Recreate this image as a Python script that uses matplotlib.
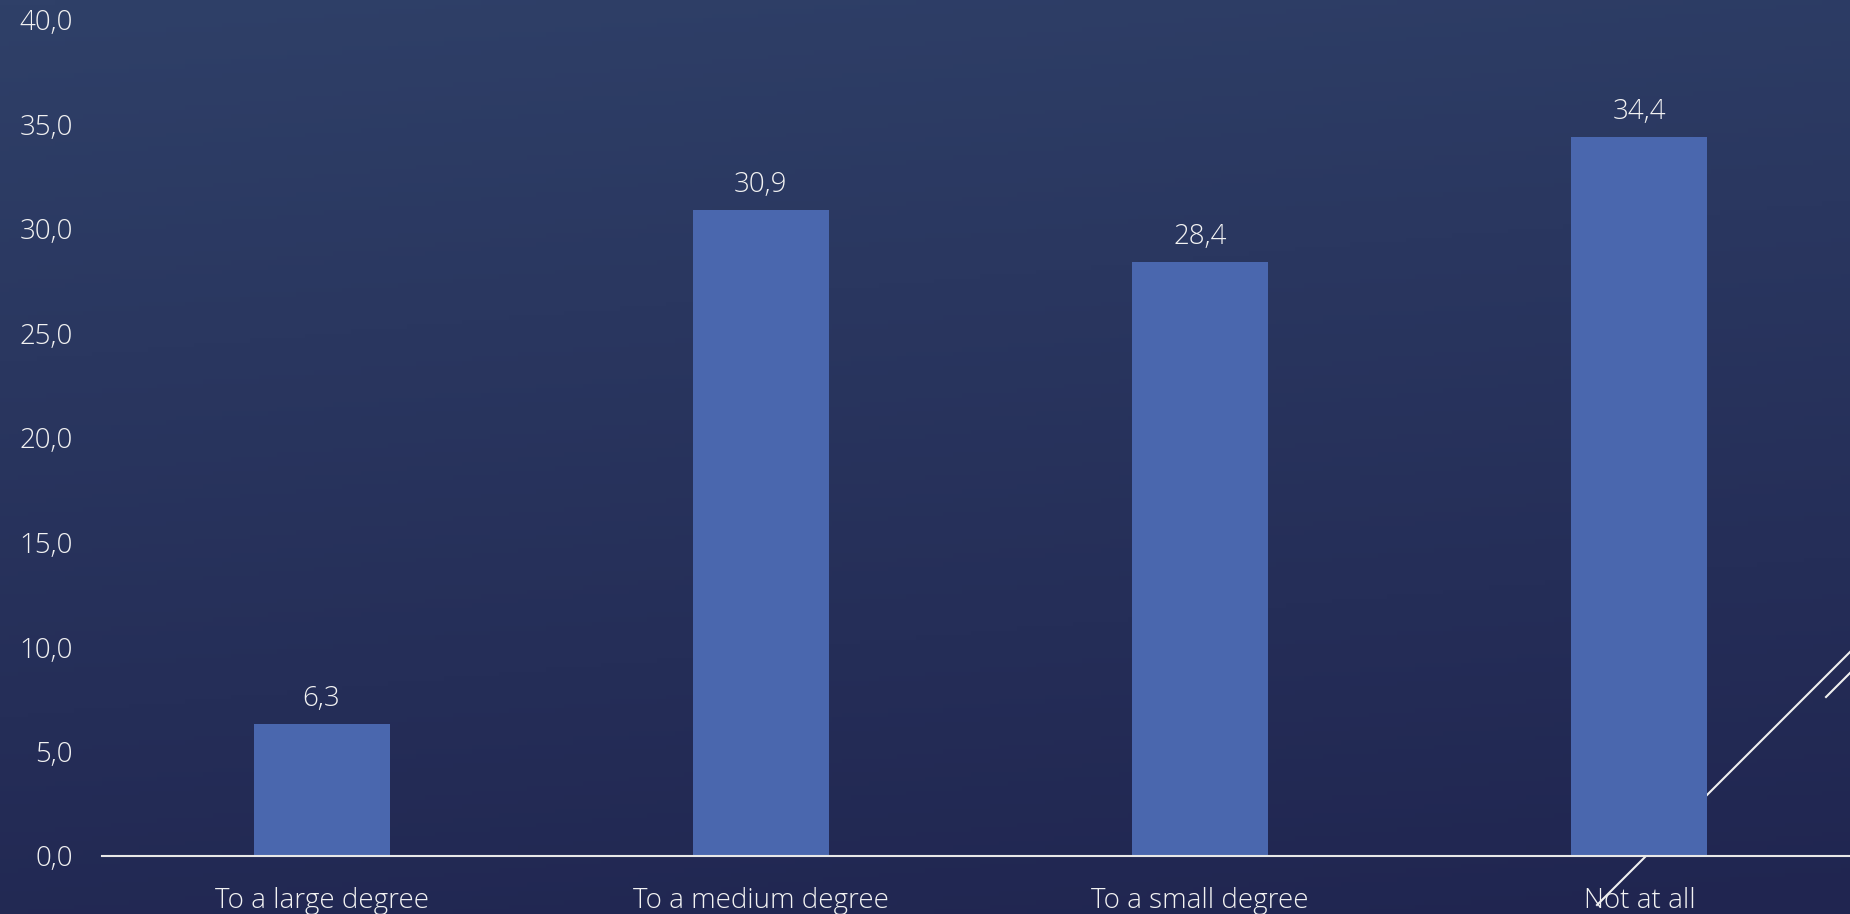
import numpy as np
import matplotlib.pyplot as plt
from matplotlib.lines import Line2D
from matplotlib.colors import LinearSegmentedColormap

categories = ['To a large degree', 'To a medium degree', 'To a small degree', 'Not at all']
values = [6.3, 30.9, 28.4, 34.4]
yticks = [0, 5, 10, 15, 20, 25, 30, 35, 40]

W, H = 1850, 914
fig = plt.figure(figsize=(W / 100, H / 100), dpi=100)
plt.rcParams['font.family'] = ['Open Sans', 'DejaVu Sans']
plt.rcParams['font.weight'] = 'light'
FS = 20
TXT = '#f2f2f2'

# background gradient (slightly diagonal)
bg = fig.add_axes([0, 0, 1, 1], zorder=-10)
yy, xx = np.mgrid[0:1:200j, 0:1:200j]
grad = 0.85 * yy + 0.15 * (1 - xx)
cmap = LinearSegmentedColormap.from_list('bg', ['#202550', '#2f4068'])
bg.imshow(grad, cmap=cmap, origin='lower', aspect='auto', extent=[0, 1, 0, 1])
bg.axis('off')

ax = fig.add_axes([102 / W, 58 / H, 1757 / W, 836 / H])
ax.patch.set_alpha(0)

x = np.arange(len(categories))
ax.bar(x, values, width=0.31, color='#4a67ae', zorder=3)
for xi, v in zip(x, values):
    ax.annotate(f'{v:.1f}'.replace('.', ','), (xi, v), xytext=(0, 8), textcoords='offset points',
                ha='center', va='bottom', color=TXT, fontsize=FS, fontweight='light')

ax.set_xlim(-0.5, 3.5)
ax.set_ylim(0, 40)
ax.set_xticks(x)
ax.set_xticklabels(categories, color=TXT, fontsize=FS, fontweight='light')
ax.set_yticks(yticks)
ax.set_yticklabels([f'{t:.1f}'.replace('.', ',') for t in yticks], color=TXT, fontsize=FS, fontweight='light')
ax.tick_params(axis='both', length=0)
ax.tick_params(axis='y', pad=21)
ax.tick_params(axis='x', pad=22)
for s in ['top', 'right', 'left']:
    ax.spines[s].set_visible(False)
ax.spines['bottom'].set_color('#e8e8e8')
ax.spines['bottom'].set_linewidth(1.5)
ax.spines['bottom'].set_zorder(4)

# decorative diagonal lines
def px(xp, yp):
    return xp / W, 1 - yp / H

for (x0, y0), (x1, y1) in [((1597, 905), (1850, 652)), ((1826, 697), (1850, 673))]:
    a, b = px(x0, y0), px(x1, y1)
    ln = Line2D([a[0], b[0]], [a[1], b[1]], transform=fig.transFigure, color='#f0f0f0', lw=1.5, zorder=1)
    ax.add_artist(ln)
    ln.set_clip_on(False)

fig.savefig('out.png', dpi=100)
